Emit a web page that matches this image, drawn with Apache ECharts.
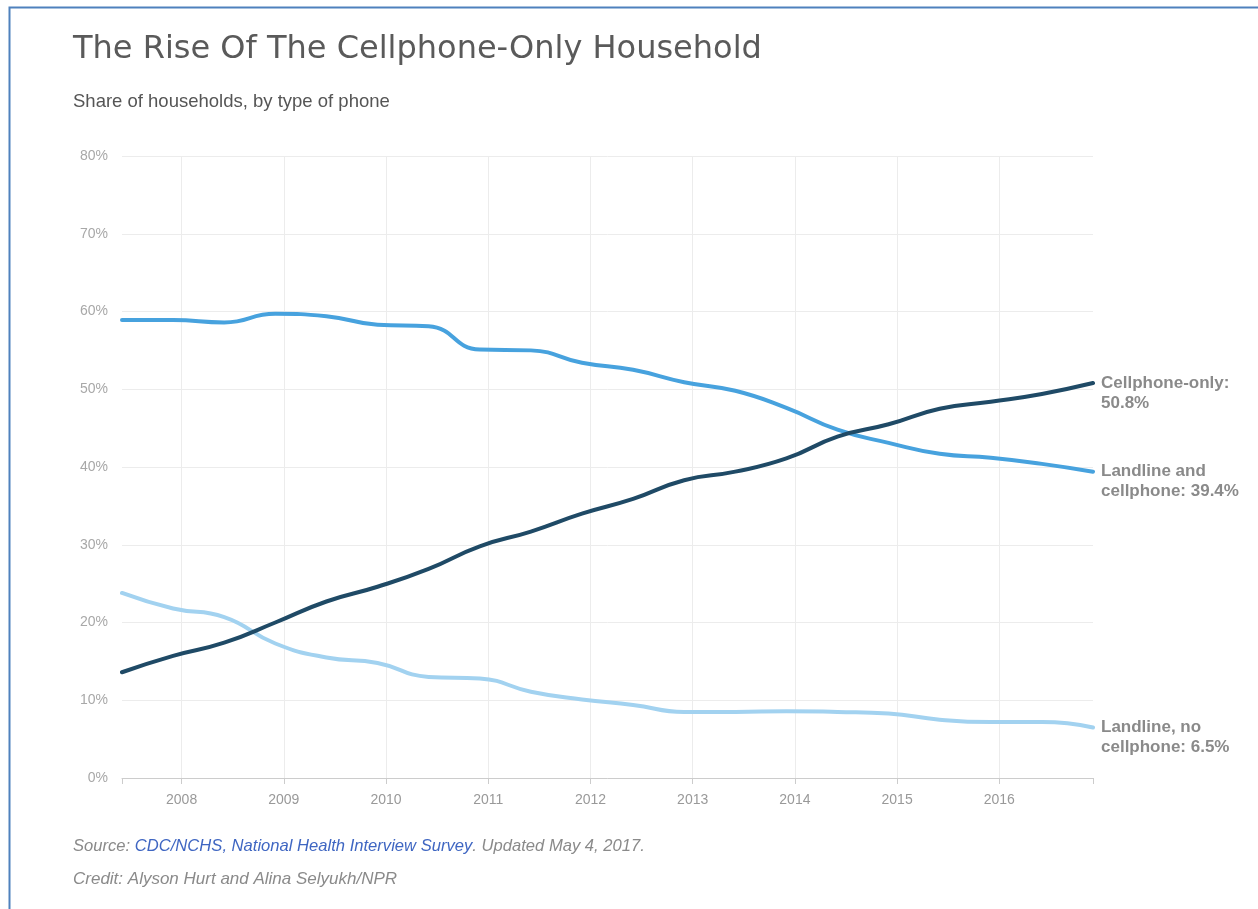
<!DOCTYPE html>
<html>
<head>
<meta charset="utf-8">
<title>The Rise Of The Cellphone-Only Household</title>
<script src="https://cdn.jsdelivr.net/npm/echarts@6/dist/echarts.min.js"></script>
<style>
  html, body { margin: 0; padding: 0; background: #fff; }
  #chart { width: 1258px; height: 909px; }
</style>
</head>
<body>
<div id="chart"></div>
<script>
// Survey periods (half years), plotted near the end of each half
const periods = [
  '2007-1', '2007-2', '2008-1', '2008-2', '2009-1', '2009-2', '2010-1', '2010-2',
  '2011-1', '2011-2', '2012-1', '2012-2', '2013-1', '2013-2', '2014-1', '2014-2',
  '2015-1', '2015-2', '2016-1', '2016-2'
];
const yearTicks = [2008, 2009, 2010, 2011, 2012, 2013, 2014, 2015, 2016];
const percentTicks = [0, 10, 20, 30, 40, 50, 60, 70, 80];

// Share of households (%)
const cellphoneOnly = [13.6, 15.7, 17.4, 20.0, 22.7, 24.6, 26.9, 29.8, 31.7, 34.0,
                       35.9, 38.3, 39.4, 41.1, 43.9, 45.5, 47.5, 48.4, 49.4, 50.8];
const landlineAndCell = [58.9, 58.9, 58.6, 59.7, 59.4, 58.3, 58.1, 55.1, 55.0, 53.4,
                         52.5, 50.9, 49.8, 47.6, 44.8, 43.1, 41.7, 41.2, 40.4, 39.4];
const landlineNoCell = [23.8, 21.8, 20.7, 17.3, 15.5, 14.8, 13.0, 12.8, 11.1, 10.1,
                        9.4, 8.5, 8.5, 8.6, 8.5, 8.3, 7.5, 7.2, 7.2, 6.5];

const seriesNames = ['Cellphone-only', 'Landline and cellphone', 'Landline, no cellphone'];
// end-of-line label layouts ({v} is replaced by the last value)
const endLabelText = ['Cellphone-only:\n{v}%', 'Landline and\ncellphone: {v}%', 'Landline, no\ncellphone: {v}%'];

// position of a half-year period on the time axis (June / December)
function periodX(p) {
  const [y, h] = p.split('-').map(Number);
  return y + (h === 1 ? 5 / 12 : 11 / 12);
}
const xs = periods.map(periodX);
const xMin = xs[0];
const xMax = xs[xs.length - 1];

function pairs(values) {
  return values.map((v, i) => [xs[i], v]);
}

const chart = echarts.init(document.getElementById('chart'), null, { renderer: 'canvas' });

const labelFont = '"Liberation Sans", Arial, sans-serif';

function lineSeries(idx, values, color, z) {
  return {
    name: seriesNames[idx],
    type: 'line',
    data: pairs(values),
    smooth: 0.5,
    showSymbol: false,
    symbol: 'none',
    z: z,
    lineStyle: { color: color, width: 4, cap: 'round' },
    emphasis: { disabled: true },
    endLabel: {
      show: true,
      distance: 8,
      offset: [0, -10],
      align: 'left',
      verticalAlign: 'top',
      color: '#8a8a8a',
      fontFamily: labelFont,
      fontWeight: 'bold',
      fontSize: 17,
      lineHeight: 20,
      formatter: function (p) {
        return endLabelText[idx].replace('{v}', p.value[1].toFixed(1));
      }
    }
  };
}

const option = {
  backgroundColor: '#ffffff',
  animation: false,
  grid: { left: 122, right: 165, top: 156, bottom: 131 },
  xAxis: [
    {
      type: 'value',
      min: xMin,
      max: xMax,
      axisLine: { show: true, lineStyle: { color: '#cccccc', width: 1 } },
      axisTick: {
        show: true,
        length: 6,
        lineStyle: { color: '#cccccc' },
        customValues: [xMin].concat(yearTicks, [xMax])
      },
      axisLabel: {
        customValues: yearTicks,
        color: '#999999',
        fontFamily: labelFont,
        fontSize: 14,
        margin: 15,
        formatter: function (v) { return String(Math.round(v)); }
      },
      splitLine: { show: false }
    },
    {
      type: 'value',
      min: xMin,
      max: xMax,
      position: 'bottom',
      axisLine: { show: false },
      axisLabel: { show: false },
      axisTick: { show: false, customValues: yearTicks },
      splitLine: { show: true, lineStyle: { color: '#ececec', width: 1 } }
    }
  ],
  yAxis: {
    type: 'value',
    min: percentTicks[0],
    max: percentTicks[percentTicks.length - 1],
    interval: 10,
    axisLine: { show: false },
    axisTick: { show: false },
    axisLabel: {
      color: '#a8a8a8',
      fontFamily: labelFont,
      fontSize: 14,
      margin: 14,
      formatter: '{value}%'
    },
    splitLine: { lineStyle: { color: '#ececec', width: 1 } }
  },
  series: [
    lineSeries(2, landlineNoCell, '#a2d2f0', 3),
    lineSeries(1, landlineAndCell, '#47a2de', 4),
    lineSeries(0, cellphoneOnly, '#1f4a66', 5)
  ],
  graphic: [
    {
      type: 'rect',
      silent: true,
      shape: { x: 9.5, y: 7.5, width: 1400, height: 1000 },
      style: { fill: 'none', stroke: '#4f81bd', lineWidth: 2 }
    },
    {
      type: 'text',
      left: 73,
      top: 34,
      style: {
        text: 'The Rise Of The Cellphone-Only Household',
        fill: '#5a5a5a',
        font: 'normal 32px "DejaVu Sans", "Open Sans", sans-serif'
      }
    },
    {
      type: 'text',
      left: 73,
      top: 92,
      style: {
        text: 'Share of households, by type of phone',
        fill: '#555555',
        font: 'normal 18.5px "Liberation Sans", Arial, sans-serif'
      }
    },
    {
      type: 'text',
      left: 73,
      top: 838,
      style: {
        text: '{g|Source: }{b|CDC/NCHS, National Health Interview Survey}{g|. Updated May 4, 2017.}',
        font: 'italic 16.6px "Liberation Sans", Arial, sans-serif',
        rich: {
          g: { fill: '#8a8a8a', font: 'italic 16.6px "Liberation Sans", Arial, sans-serif' },
          b: { fill: '#3f66c2', font: 'italic 16.6px "Liberation Sans", Arial, sans-serif' }
        }
      }
    },
    {
      type: 'text',
      left: 73,
      top: 871,
      style: {
        text: 'Credit: Alyson Hurt and Alina Selyukh/NPR',
        fill: '#8a8a8a',
        font: 'italic 17px "Liberation Sans", Arial, sans-serif'
      }
    }
  ]
};

chart.setOption(option);
</script>
</body>
</html>
